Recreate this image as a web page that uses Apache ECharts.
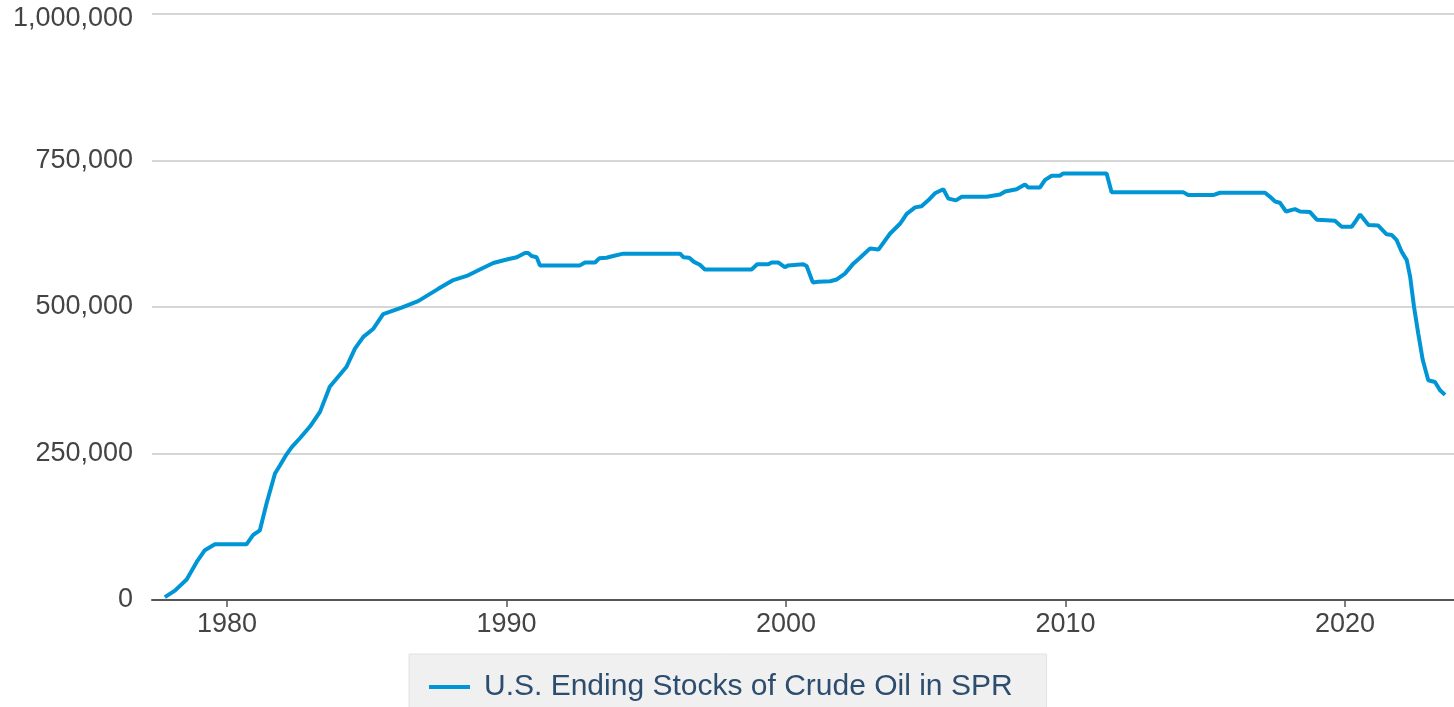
<!DOCTYPE html>
<html>
<head>
<meta charset="utf-8">
<title>U.S. Ending Stocks of Crude Oil in SPR</title>
<script src="https://cdn.jsdelivr.net/npm/echarts@6/dist/echarts.min.js"></script>
<style>
  html, body { margin: 0; padding: 0; background: #fff; }
  #main { width: 1454px; height: 707px; }
</style>
</head>
<body>
<div id="main"></div>
<script>
// decimal year of each reading
const years = [
  1977.78, 1978.14, 1978.56, 1978.92, 1979.21, 1979.57, 1980.70, 1980.94, 1981.18, 1981.42,
  1981.72, 1981.90, 1982.14, 1982.32, 1982.61, 1982.97, 1983.33, 1983.68, 1983.98, 1984.28,
  1984.58, 1984.88, 1985.24, 1985.59, 1986.25, 1986.84, 1987.56, 1988.10, 1988.58, 1989.05,
  1989.53, 1990.01, 1990.37, 1990.66, 1990.78, 1990.90, 1991.08, 1991.20, 1992.63, 1992.81,
  1993.17, 1993.32, 1993.58, 1993.82, 1994.18, 1996.21, 1996.33, 1996.54, 1996.71, 1996.92,
  1997.10, 1998.77, 1998.97, 1999.37, 1999.49, 1999.72, 1999.96, 2000.08, 2000.62, 2000.74,
  2000.96, 2001.16, 2001.58, 2001.82, 2002.11, 2002.41, 2002.65, 2003.01, 2003.31, 2003.72,
  2004.08, 2004.32, 2004.62, 2004.85, 2005.09, 2005.33, 2005.63, 2005.81, 2006.08, 2006.29,
  2007.18, 2007.66, 2007.84, 2008.25, 2008.55, 2008.67, 2009.09, 2009.27, 2009.51, 2009.80,
  2009.92, 2011.47, 2011.65, 2014.21, 2014.39, 2015.28, 2015.53, 2017.14, 2017.32, 2017.50,
  2017.67, 2017.89, 2018.21, 2018.39, 2018.75, 2018.99, 2019.35, 2019.64, 2019.88, 2020.24,
  2020.36, 2020.54, 2020.84, 2021.19, 2021.49, 2021.67, 2021.85, 2022.03, 2022.21, 2022.33,
  2022.47, 2022.62, 2022.78, 2022.98, 2023.22, 2023.40, 2023.58
];

// thousand barrels
const stocks = [
  5000, 16000, 35000, 65000, 85000, 95000, 95000, 111000, 119000, 165000,
  216000, 230000, 249000, 261000, 276000, 296000, 321000, 364000, 381000, 398000,
  429000, 449000, 463000, 488000, 499000, 510000, 531000, 546000, 553000, 564000,
  575000, 581000, 585000, 592000, 592000, 587000, 585000, 571000, 571000, 576000,
  576000, 583000, 584000, 587000, 591000, 591000, 585000, 584000, 577000, 572000,
  564000, 564000, 573000, 573000, 576000, 576000, 568000, 571000, 573000, 570000,
  542000, 543000, 544000, 547000, 557000, 574000, 584000, 600000, 598000, 625000,
  642000, 659000, 670000, 672000, 682000, 694000, 701000, 685000, 682000, 688000,
  688000, 692000, 697000, 701000, 709000, 704000, 704000, 717000, 724000, 724000,
  728000, 728000, 696000, 696000, 691000, 691000, 695000, 695000, 688000, 680000,
  678000, 663000, 667000, 663000, 662000, 649000, 648000, 647000, 637000, 637000,
  645000, 658000, 640000, 639000, 624000, 623000, 614000, 594000, 580000, 552000,
  500000, 455000, 410000, 375000, 372000, 358000, 350000
];

const yearTicks = [1980, 1990, 2000, 2010, 2020];
const valueTicks = [0, 250000, 500000, 750000, 1000000];
const seriesName = 'U.S. Ending Stocks of Crude Oil in SPR';

const chart = echarts.init(document.getElementById('main'));

chart.setOption({
  animation: false,
  backgroundColor: '#fff',
  textStyle: { fontFamily: '"Liberation Sans", Arial, sans-serif' },
  grid: { left: 152, right: 0, top: 14, bottom: 107 },
  legend: {
    left: 409,
    top: 654,
    padding: [18, 34, 20, 20],
    backgroundColor: '#f0f0f0',
    borderColor: '#e2e2e2',
    borderWidth: 1,
    icon: 'rect',
    itemWidth: 41,
    itemHeight: 4,
    textStyle: {
      fontSize: 30,
      color: '#2d4d6e',
      padding: [0, 0, 0, 9]
    },
    data: [seriesName]
  },
  xAxis: {
    type: 'value',
    min: 1977.32,
    max: 2023.9,
    axisLine: { show: true, lineStyle: { color: '#555', width: 2 } },
    axisTick: {
      show: true,
      length: 7,
      customValues: yearTicks,
      lineStyle: { color: '#555', width: 1.5 }
    },
    axisLabel: {
      customValues: yearTicks,
      fontSize: 27,
      color: '#444',
      margin: 11,
      formatter: v => String(v)
    },
    splitLine: { show: false }
  },
  yAxis: {
    type: 'value',
    min: 0,
    max: 1000000,
    interval: 250000,
    axisLine: { show: false },
    axisTick: { show: false },
    axisLabel: {
      fontSize: 27,
      color: '#444',
      margin: 19,
      formatter: v => {
        if (!valueTicks.includes(v)) return '';
        const s = v.toLocaleString('en-US');
        return v === 1000000 ? '{top|' + s + '}' : s;
      },
      rich: {
        top: { fontSize: 27, color: '#444', padding: [10, 0, 0, 0] }
      }
    },
    splitLine: { lineStyle: { color: '#c8c8c8', width: 1.5 } }
  },
  series: [{
    name: seriesName,
    type: 'line',
    symbol: 'none',
    color: '#0096d6',
    lineStyle: { width: 4, color: '#0096d6' },
    data: years.map((y, i) => [y, stocks[i]])
  }]
});
</script>
</body>
</html>
